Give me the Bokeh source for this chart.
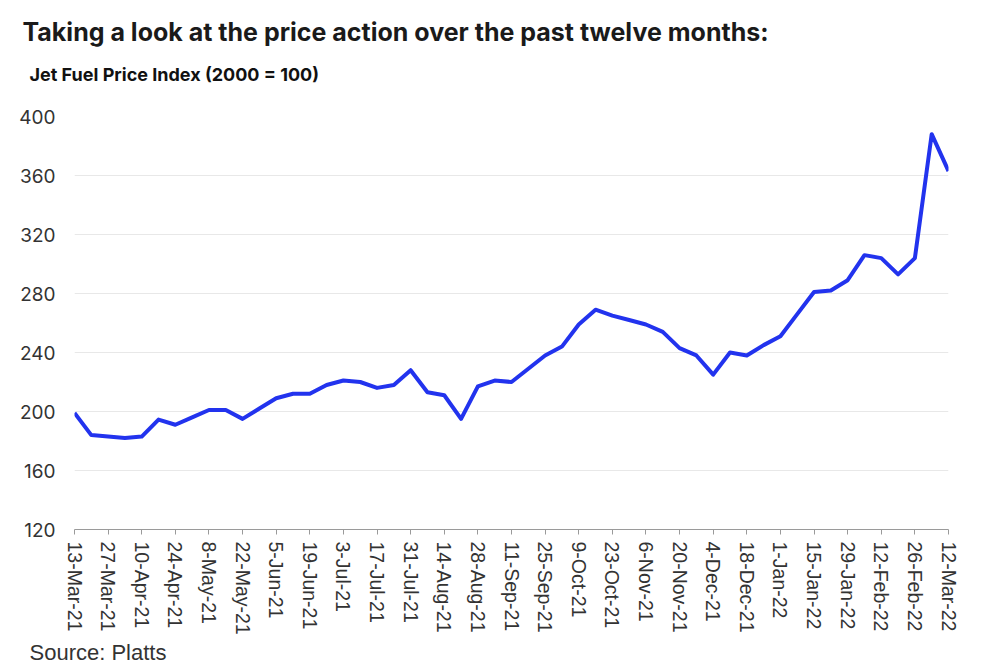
import pandas as pd
from bokeh.plotting import figure
from bokeh.models import Range1d, FixedTicker, Title, ColumnDataSource
from bokeh.embed import file_html
from bokeh.resources import INLINE

title_text = "Taking a look at the price action over the past twelve months:"
subtitle_text = "Jet Fuel Price Index (2000 = 100)"
source_text = "Source: Platts"

week_dates = pd.date_range("2021-03-13", periods=53, freq="7D")
price_index = [199, 184, 183, 182, 183, 194.5, 191, 196, 201, 201,
               195, 202, 209, 212, 212, 218, 221, 220, 216, 218,
               228, 213, 211, 195, 217, 221, 220, 229, 238, 244,
               259, 269, 265, 262, 259, 254, 243, 238, 225, 240,
               238, 245, 251, 266, 281, 282, 289, 306, 304, 293,
               304, 388, 363]
tick_labels = ["13-Mar-21", "27-Mar-21", "10-Apr-21", "24-Apr-21", "8-May-21",
               "22-May-21", "5-Jun-21", "19-Jun-21", "3-Jul-21", "17-Jul-21",
               "31-Jul-21", "14-Aug-21", "28-Aug-21", "11-Sep-21", "25-Sep-21",
               "9-Oct-21", "23-Oct-21", "6-Nov-21", "20-Nov-21", "4-Dec-21",
               "18-Dec-21", "1-Jan-22", "15-Jan-22", "29-Jan-22", "12-Feb-22",
               "26-Feb-22", "12-Mar-22"]
y_ticks = [120, 160, 200, 240, 280, 320, 360, 400]

week_index = list(range(len(week_dates)))
tick_positions = week_index[::2]

src = ColumnDataSource(dict(x=week_index, y=price_index))

p = figure(width=992, height=668, output_backend="svg", toolbar_location=None,
           x_range=Range1d(0, len(week_dates) - 1), y_range=Range1d(120, 400),
           min_border_left=74, min_border_right=44, min_border_top=116,
           min_border_bottom=139)
p.outline_line_color = None
p.background_fill_color = "white"
p.border_fill_color = "white"

p.line("x", "y", source=src, line_color="#2233ee", line_width=4,
       line_join="round")

# y axis
p.yaxis.ticker = FixedTicker(ticks=y_ticks)
p.yaxis.axis_line_color = None
p.yaxis.major_tick_line_color = None
p.yaxis.minor_tick_line_color = None
p.yaxis.major_tick_out = 0
p.yaxis.major_tick_in = 0
p.yaxis.major_label_standoff = 19
p.yaxis.major_label_text_font = "Inter"
p.yaxis.major_label_text_font_size = "19px"
p.yaxis.major_label_text_color = "#333333"

# x axis
p.xaxis.ticker = FixedTicker(ticks=tick_positions)
p.xaxis.major_label_overrides = {pos: lab for pos, lab in zip(tick_positions, tick_labels)}
p.xaxis.major_label_orientation = "vertical"
p.xaxis.axis_line_color = "#9a9a9a"
p.xaxis.axis_line_width = 1
p.xaxis.major_tick_line_color = "#9a9a9a"
p.xaxis.major_tick_out = 5
p.xaxis.major_tick_in = 0
p.xaxis.minor_tick_line_color = None
p.xaxis.major_label_standoff = 7
p.xaxis.major_label_text_font = "Liberation Sans"
p.xaxis.major_label_text_font_size = "19.5px"
p.xaxis.major_label_text_color = "#333333"

p.xgrid.grid_line_color = None
p.ygrid.grid_line_color = "#e8e8e8"
p.ygrid.grid_line_width = 1

# spacer between subtitle and plot area
p.add_layout(Title(text=" ", text_font_size="1px", standoff=26), "above")
p.add_layout(Title(text=subtitle_text, align="left", offset=-45,
                   text_font="Inter", text_font_size="18px",
                   text_font_style="bold", text_color="#111111",
                   standoff=6), "above")
p.add_layout(Title(text=title_text, align="left", offset=-52,
                   text_font="Inter", text_font_size="25px",
                   text_font_style="bold", text_color="#1a1a1a",
                   standoff=24), "above")
p.add_layout(Title(text=source_text, align="left", offset=-45,
                   text_font="Liberation Sans", text_font_size="22px",
                   text_font_style="normal", text_color="#333333",
                   standoff=0), "below")

open("out.html", "w").write(file_html(p, INLINE))
